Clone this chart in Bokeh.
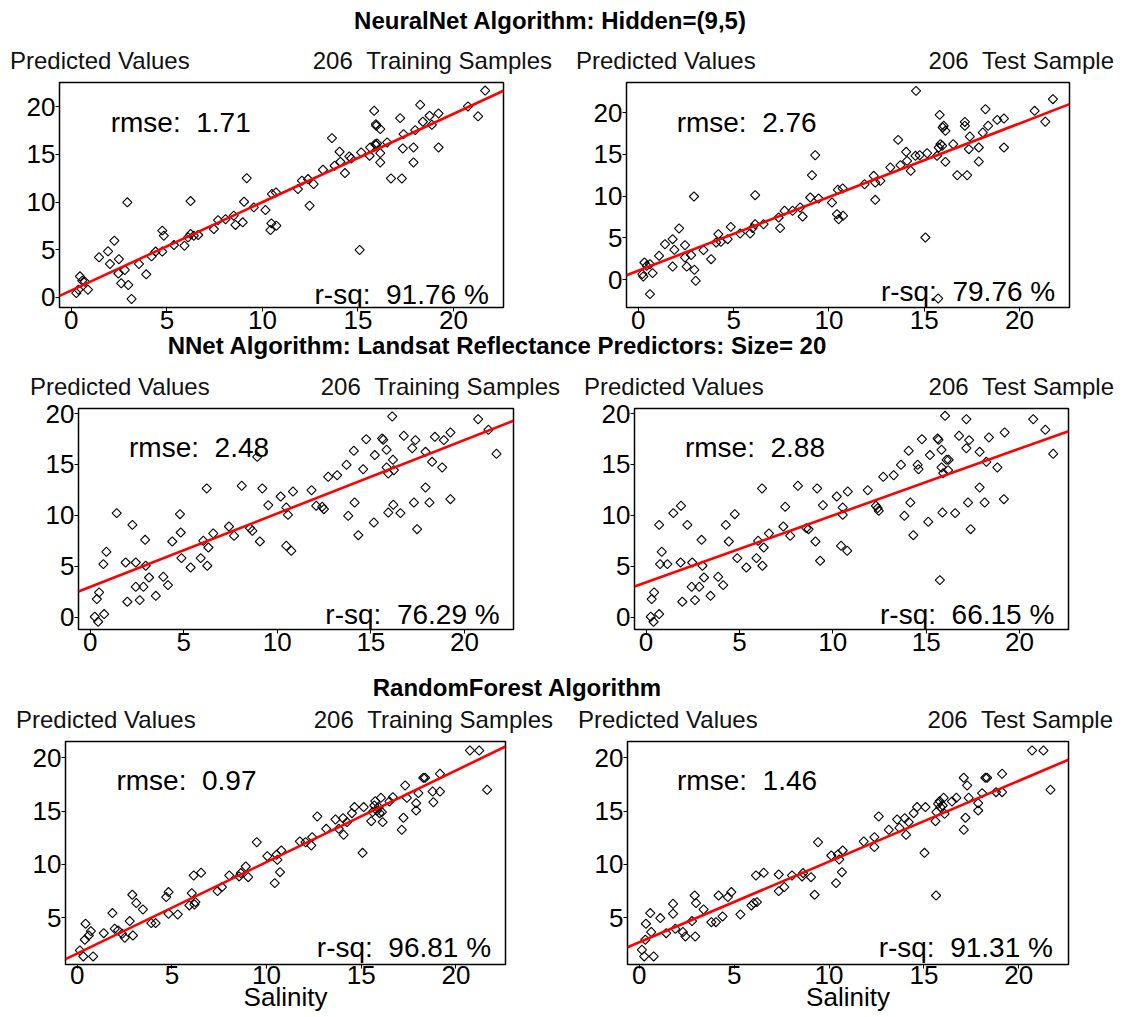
import numpy as np
from bokeh.plotting import figure
from bokeh.models import Label, FixedTicker, Div, Range1d
from bokeh.layouts import column, row
from bokeh.embed import file_html
from bokeh.resources import INLINE

FONT = "Liberation Sans"
NBSP2 = "\u00a0\u00a0"

# ---- NeuralNet Algorithm: Hidden=(9,5) ----
nn_train_obs = [0.26, 0.37, 0.45, 0.57, 0.71, 0.87, 1.45, 1.92, 2.02, 2.25,
                2.49, 2.46, 2.61, 2.80, 2.93, 2.98, 3.15, 3.54, 3.92, 4.20,
                4.41, 4.76, 4.84, 4.76, 5.37, 5.92, 6.11, 6.24, 6.24, 6.41,
                6.64, 7.46, 7.68, 8.07, 8.59, 8.50, 8.97, 9.04, 9.18, 9.55,
                10.16, 10.42, 10.47, 10.73, 10.50, 10.71, 11.86, 12.07, 12.39, 12.47,
                12.68, 13.17, 13.64, 13.78, 14.04, 14.08, 14.32, 14.55, 14.65, 15.09,
                15.17, 15.61, 15.64, 15.85, 15.90, 15.94, 15.96, 16.17, 16.17, 16.17,
                16.53, 16.73, 17.21, 17.30, 17.39, 17.35, 17.91, 17.91, 18.00, 18.26,
                18.40, 18.75, 18.87, 19.22, 19.22, 20.76, 21.29, 21.66, 15.95, 16.00]
nn_train_pred = [0.45, 0.80, 2.20, 1.75, 1.64, 0.80, 4.20, 4.83, 3.50, 5.94,
                 4.00, 2.50, 1.47, 2.87, 9.97, 1.30, -0.17, 3.50, 2.41, 4.30,
                 4.80, 7.00, 6.47, 4.80, 5.49, 5.42, 6.30, 10.10, 6.64, 6.47,
                 6.54, 7.17, 8.10, 8.20, 7.60, 8.57, 7.87, 10.03, 12.50, 9.44,
                 9.16, 7.06, 7.76, 7.52, 10.84, 11.01, 11.36, 12.24, 12.41, 9.62,
                 11.89, 13.39, 16.71, 13.81, 15.28, 14.23, 13.04, 14.79, 14.58, 4.97,
                 15.21, 14.86, 15.73, 19.58, 16.08, 18.18, 18.00, 17.66, 15.14, 14.16,
                 16.26, 12.48, 18.81, 12.48, 17.13, 15.63, 15.73, 14.16, 17.55, 20.21,
                 18.43, 19.06, 18.11, 19.30, 15.73, 20.04, 19.00, 21.70, 16.00, 16.15]

nn_test_obs = [0.21, 0.26, 0.32, 0.44, 0.61, 0.61, 0.75, 1.09, 1.40, 1.80,
               1.80, 1.89, 2.14, 2.45, 2.45, 2.54, 2.77, 2.92, 2.94, 3.01,
               3.42, 3.82, 4.08, 4.20, 4.33, 4.69, 4.85, 5.34, 5.87, 5.99,
               6.13, 6.13, 6.57, 7.36, 7.44, 7.67, 8.09, 8.62, 8.49, 9.02,
               9.11, 9.28, 9.46, 10.16, 10.42, 10.51, 10.74, 10.47, 10.72, 11.87,
               12.35, 12.43, 12.43, 12.70, 13.22, 13.63, 13.75, 14.05, 14.10, 14.29,
               14.54, 14.57, 14.76, 15.06, 15.15, 15.67, 15.76, 15.81, 15.85, 15.94,
               15.97, 16.02, 16.11, 16.11, 15.73, 16.52, 16.73, 17.13, 17.13, 17.25,
               17.39, 17.34, 17.86, 17.86, 18.07, 18.21, 18.35, 18.83, 19.18, 19.18,
               20.79, 21.35, 21.75]
nn_test_pred = [0.68, 0.40, 2.07, 1.67, 1.87, -1.71, 0.80, 2.87, 4.26, 4.86,
                1.59, 3.59, 6.14, 4.14, 2.67, 1.59, 2.95, 9.96, 1.20, -0.12,
                3.55, 2.47, 4.46, 5.46, 4.54, 4.86, 6.33, 5.54, 5.54, 6.18,
                10.12, 6.65, 6.65, 7.45, 6.18, 8.25, 8.25, 7.57, 8.65, 9.84,
                12.51, 14.90, 9.72, 9.24, 7.85, 7.25, 7.65, 10.76, 10.92, 11.43,
                12.43, 11.63, 9.56, 11.83, 13.43, 16.73, 13.71, 15.30, 14.22, 13.03,
                14.82, 22.59, 14.90, 5.06, 15.14, 14.82, 15.82, 19.72, 16.22, 16.02,
                18.21, 18.41, 17.81, 14.10, -2.23, 16.22, 12.51, 18.88, 18.41, 12.51,
                17.13, 15.62, 15.82, 14.14, 17.61, 20.40, 18.41, 19.12, 19.28, 15.82,
                20.20, 18.90, 21.60]

# ---- NNet Algorithm: Landsat Reflectance Predictors ----
nnet_train_obs = [0.25, 0.43, 0.36, 0.48, 0.75, 0.71, 0.87, 1.42, 1.90, 1.99,
                  2.26, 2.44, 2.44, 2.65, 2.85, 2.94, 2.97, 3.15, 3.51, 3.91,
                  4.16, 4.39, 4.80, 4.84, 4.88, 5.37, 5.91, 6.05, 6.23, 6.26,
                  6.32, 6.58, 7.42, 7.69, 8.10, 8.54, 8.67, 8.93, 9.07, 9.20,
                  9.52, 10.18, 10.48, 10.57, 10.48, 10.75, 10.84, 11.83, 12.08, 12.40,
                  12.49, 12.72, 13.20, 13.70, 13.79, 14.09, 14.13, 14.33, 14.59, 14.75,
                  15.16, 15.21, 15.60, 15.66, 15.84, 15.84, 15.93, 15.93, 16.18, 16.14,
                  16.20, 16.23, 16.58, 16.76, 17.21, 17.30, 17.38, 17.47, 17.92, 17.92,
                  18.13, 18.27, 18.42, 18.81, 18.90, 19.25, 19.25, 20.73, 21.28, 21.71]
nnet_train_pred = [0.07, -0.42, 1.80, 2.45, 0.33, 5.23, 6.44, 10.23, 5.39, 1.54,
                   9.08, 5.39, 3.01, 1.70, 3.01, 7.61, 5.07, 3.92, 2.12, 3.99,
                   3.17, 7.45, 10.13, 8.33, 5.82, 4.90, 5.82, 7.52, 12.65, 5.07,
                   6.86, 8.24, 8.92, 8.01, 12.91, 8.76, 8.50, 15.75, 7.45, 12.65,
                   11.01, 11.86, 10.78, 10.07, 7.03, 6.54, 12.35, 12.48, 10.95, 10.85,
                   10.62, 13.79, 13.95, 14.97, 9.97, 16.34, 11.27, 8.07, 14.54, 17.48,
                   9.31, 15.92, 17.55, 17.42, 16.44, 14.71, 14.12, 10.29, 15.46, 19.71,
                   11.05, 14.44, 10.23, 17.81, 16.60, 11.27, 17.39, 8.66, 16.24, 12.75,
                   11.27, 15.26, 17.71, 14.71, 17.39, 18.14, 11.60, 19.44, 18.40, 16.05]

nnet_test_obs = [0.25, 0.40, 0.30, 0.43, 0.70, 0.70, 0.75, 0.84, 1.14, 1.46,
                 1.87, 1.85, 1.94, 2.21, 2.47, 2.44, 2.62, 2.85, 2.97, 3.02,
                 3.10, 3.45, 3.86, 4.13, 4.27, 4.43, 4.75, 4.88, 5.37, 5.91,
                 6.00, 6.21, 6.23, 6.30, 6.58, 7.35, 7.45, 7.72, 8.13, 8.58,
                 8.70, 9.07, 9.16, 9.32, 9.47, 10.21, 10.44, 10.53, 10.53, 10.77,
                 10.80, 11.87, 12.31, 12.40, 12.46, 12.70, 13.26, 13.65, 13.83, 14.06,
                 14.15, 14.31, 14.54, 14.59, 14.77, 15.11, 15.20, 15.61, 15.66, 15.73,
                 15.82, 15.82, 15.87, 15.91, 16.01, 16.09, 16.20, 16.17, 16.55, 16.76,
                 17.15, 17.15, 17.24, 17.30, 17.38, 17.86, 17.86, 18.13, 18.22, 18.36,
                 18.81, 19.16, 19.20, 20.73, 21.38, 21.80]
nnet_test_pred = [0.07, -0.42, 1.80, 2.45, 0.33, 9.08, 5.23, 6.44, 5.23, 10.23,
                  10.95, 5.39, 1.54, 9.08, 5.39, 3.01, 1.70, 3.01, 7.61, 5.07,
                  3.92, 2.12, 3.99, 3.17, 9.08, 7.45, 10.13, 5.82, 4.90, 5.82,
                  7.52, 12.65, 5.07, 6.86, 8.24, 8.92, 10.85, 8.01, 12.91, 8.76,
                  8.66, 7.45, 12.65, 5.56, 11.01, 11.86, 7.03, 10.78, 10.07, 6.54,
                  12.35, 12.48, 10.95, 10.72, 10.46, 13.79, 13.95, 14.97, 9.97, 16.34,
                  11.27, 8.07, 14.97, 14.54, 17.48, 9.38, 15.92, 17.55, 17.42, 3.66,
                  16.44, 14.71, 10.29, 14.15, 19.77, 15.46, 15.46, 14.44, 10.23, 17.81,
                  19.44, 16.60, 11.27, 17.39, 8.66, 16.24, 12.75, 11.27, 15.26, 17.65,
                  14.71, 11.60, 18.14, 19.44, 18.40, 16.05]

# ---- RandomForest Algorithm ----
rf_train_obs = [0.14, 0.32, 0.44, 0.40, 0.61, 0.72, 0.84, 1.40, 1.86, 1.98,
                2.16, 2.37, 2.51, 2.77, 2.94, 2.91, 3.12, 3.47, 3.91, 4.14,
                4.70, 4.82, 4.82, 5.31, 5.92, 6.05, 6.15, 6.19, 6.24, 6.54,
                7.41, 7.64, 8.03, 8.55, 8.64, 8.90, 9.03, 9.48, 10.04, 10.43,
                10.53, 10.57, 10.71, 10.78, 11.76, 12.06, 12.36, 12.41, 12.68, 13.15,
                13.64, 13.81, 14.04, 14.07, 14.25, 14.51, 14.64, 15.07, 15.13, 15.53,
                15.60, 15.69, 15.74, 15.83, 15.92, 15.97, 16.04, 16.09, 16.13, 16.49,
                16.67, 17.14, 17.23, 17.32, 17.41, 17.90, 17.90, 18.02, 18.28, 18.37,
                18.81, 18.77, 19.16, 19.16, 20.74, 21.23, 21.65]
rf_train_pred = [1.94, 1.38, 4.44, 2.94, 3.34, 3.75, 1.38, 3.56, 5.44, 3.97,
                 3.81, 3.50, 3.13, 4.69, 3.34, 7.16, 6.38, 5.78, 4.50, 4.50,
                 6.94, 7.41, 5.38, 5.31, 6.16, 7.31, 8.97, 6.25, 6.47, 9.22,
                 7.50, 7.88, 8.97, 8.88, 9.19, 9.81, 8.81, 12.09, 10.78, 8.25,
                 10.91, 10.44, 9.28, 11.31, 12.16, 12.09, 11.78, 12.56, 14.50, 13.34,
                 14.22, 13.34, 14.34, 12.78, 13.97, 14.81, 15.38, 11.09, 15.38, 14.06,
                 14.91, 15.53, 15.94, 15.06, 15.38, 14.81, 16.25, 14.91, 13.97, 15.91,
                 16.31, 13.25, 14.38, 17.41, 16.25, 15.06, 15.75, 16.69, 18.13, 18.13,
                 15.84, 16.84, 18.50, 16.84, 20.69, 20.68, 17.00]

rf_test_obs = [0.14, 0.26, 0.35, 0.32, 0.58, 0.63, 0.76, 1.11, 1.42, 1.78,
               1.78, 1.90, 2.30, 2.43, 2.78, 2.92, 2.99, 2.95, 3.39, 3.80,
               4.04, 4.18, 4.39, 4.67, 4.85, 5.33, 5.91, 6.03, 6.15, 6.20,
               6.56, 7.35, 7.35, 7.64, 8.05, 8.58, 8.63, 9.05, 9.24, 9.42,
               10.12, 10.37, 10.47, 10.54, 10.68, 10.72, 11.83, 12.39, 12.39, 12.62,
               13.15, 13.59, 13.71, 13.99, 14.06, 14.20, 14.46, 14.64, 15.03, 15.08,
               15.61, 15.64, 15.66, 15.75, 15.83, 15.87, 15.99, 16.04, 16.09, 16.48,
               16.71, 17.10, 17.10, 17.19, 17.28, 17.36, 17.86, 17.86, 18.07, 18.24,
               18.33, 18.80, 19.12, 19.12, 20.70, 21.30, 21.67]
rf_test_pred = [2.00, 1.38, 4.44, 2.94, 5.44, 3.66, 1.38, 4.97, 3.56, 6.31,
                5.38, 3.97, 3.66, 3.25, 4.69, 7.09, 6.38, 3.25, 5.78, 4.59,
                4.59, 7.09, 5.13, 6.94, 7.41, 5.31, 6.16, 6.38, 8.97, 6.47,
                9.22, 9.06, 7.50, 7.88, 8.97, 8.88, 9.19, 8.81, 7.16, 12.09,
                10.84, 8.25, 10.94, 10.47, 9.28, 11.31, 12.16, 12.56, 11.63, 14.50,
                13.25, 14.22, 13.44, 14.34, 12.78, 13.97, 14.81, 15.38, 11.09, 15.38,
                14.06, 7.09, 14.91, 15.69, 15.94, 15.38, 15.53, 16.25, 14.75, 15.91,
                16.25, 13.25, 18.13, 14.38, 17.41, 16.25, 15.06, 15.75, 16.69, 18.13,
                18.13, 16.78, 16.78, 18.50, 20.69, 20.68, 17.00]

# fitted regression lines (intercept, slope) and summary statistics
fits = {"nn_train": (0.72, 0.927), "nn_test": (1.10, 0.880),
        "nnet_train": (3.00, 0.720), "nnet_test": (3.45, 0.655),
        "rf_train": (1.65, 0.858), "rf_test": (2.70, 0.757)}
rmse_values = {"nn_train": "1.71", "nn_test": "2.76", "nnet_train": "2.48",
               "nnet_test": "2.88", "rf_train": "0.97", "rf_test": "1.46"}
rsq_values = {"nn_train": "91.76", "nn_test": "79.76", "nnet_train": "76.29",
              "nnet_test": "66.15", "rf_train": "96.81", "rf_test": "91.31"}

row_titles = ["NeuralNet Algorithm: Hidden=(9,5)",
              "NNet Algorithm: Landsat Reflectance Predictors: Size= 20",
              "RandomForest Algorithm"]
n_samples = 206
sample_kinds = ["Training Samples", "Test Sample"]
axis_ticks = [0, 5, 10, 15, 20]
X_RANGE = (-0.62, 22.62)


def make_panel(key, obs, pred, y_range, geom, stat_pos, salinity=False):
    fl, fw, fr, ft, fh, fb = geom
    p = figure(frame_width=fw, frame_height=fh,
               min_border_left=fl, min_border_right=fr,
               min_border_top=ft, min_border_bottom=fb,
               x_range=Range1d(*X_RANGE), y_range=Range1d(*y_range),
               output_backend="svg", toolbar_location=None, tools="")
    p.background_fill_color = "white"
    p.border_fill_color = "white"
    p.outline_line_color = "black"
    p.outline_line_width = 1.5
    p.outline_line_alpha = 1.0
    p.xgrid.visible = False
    p.ygrid.visible = False
    for ax in (p.xaxis[0], p.yaxis[0]):
        ax.ticker = FixedTicker(ticks=axis_ticks)
        ax.axis_line_color = None
        ax.major_tick_in = 0
        ax.major_tick_out = 4
        ax.major_tick_line_color = "black"
        ax.major_tick_line_width = 1
        ax.minor_tick_line_color = None
        ax.major_label_text_font = FONT
        ax.major_label_text_font_size = "26px"
        ax.major_label_text_color = "black"
    p.xaxis.major_label_standoff = -1 if not salinity else -3
    p.yaxis.major_label_standoff = 0
    if salinity:
        p.xaxis.axis_label = "Salinity"
        p.xaxis.axis_label_text_font = FONT
        p.xaxis.axis_label_text_font_size = "26px"
        p.xaxis.axis_label_text_font_style = "normal"
        p.xaxis.axis_label_text_color = "black"
        p.xaxis.axis_label_standoff = -5

    p.scatter(obs, pred, marker="square", size=6.5, angle=np.pi / 4,
              fill_color=None, line_color="black", line_width=1.1)

    a, b = fits[key]
    xs = list(X_RANGE)
    p.line(xs, [a + b * x for x in xs], line_color="#ff0000", line_width=2.6)

    (rmx, rmy), (rsx, rsy) = stat_pos
    p.add_layout(Label(x=rmx, y=rmy, text=f"rmse:{NBSP2}{rmse_values[key]}", text_font=FONT,
                       text_font_size="28px", text_color="black",
                       text_baseline="alphabetic", text_align="left"))
    p.add_layout(Label(x=rsx, y=rsy, text=f"r-sq:{NBSP2}{rsq_values[key]} %", text_font=FONT,
                       text_font_size="28px", text_color="black",
                       text_baseline="alphabetic", text_align="right"))
    return p


p1 = make_panel("nn_train", nn_train_obs, nn_train_pred, (-1.07, 22.55),
                (59, 444, 58, 4, 225, 32), ((2.06, 18.36), (21.85, 0.3)))
p2 = make_panel("nn_test", nn_test_obs, nn_test_pred, (-3.31, 23.59),
                (65, 443, 53, 4, 225, 32), ((2.01, 18.8), (21.87, -1.4)))
p3 = make_panel("nnet_train", nnet_train_obs, nnet_train_pred, (-1.18, 20.49),
                (78, 435, 48, 10, 221, 32), ((2.08, 16.67), (21.88, 0.25)))
p4 = make_panel("nnet_test", nnet_test_obs, nnet_test_pred, (-1.18, 20.49),
                (73, 434, 54, 10, 221, 32), ((2.08, 16.67), (21.86, 0.25)))
p5 = make_panel("rf_train", rf_train_obs, rf_train_pred, (0.62, 21.53),
                (65, 440, 56, 4, 223, 53), ((2.07, 17.88), (21.86, 2.25)), salinity=True)
p6 = make_panel("rf_test", rf_test_obs, rf_test_pred, (0.62, 21.53),
                (66, 441, 54, 4, 223, 53), ((1.99, 17.88), (21.8, 2.25)), salinity=True)


def header_div(title, height, title_top, shift, head_top, lefts, rights):
    """Row title plus the two header lines above each panel of the row."""
    parts = [f'<div style="position:relative;width:1122px;height:{height}px;'
             f'font-family:\'Liberation Sans\';color:black;line-height:18px">']
    parts.append(f'<div style="position:absolute;left:0;top:{title_top}px;width:1122px;'
                 f'text-align:center;white-space:nowrap;transform:translateX({shift}px);'
                 f'font-weight:bold;font-size:24px">{title}</div>')
    heads = [("Predicted Values", "left", lefts[0]),
             (f"{n_samples}&nbsp;&nbsp;{sample_kinds[0]}", "right", 1122 - rights[0]),
             ("Predicted Values", "left", lefts[1]),
             (f"{n_samples}&nbsp;&nbsp;{sample_kinds[1]}", "right", 1122 - rights[1])]
    for text, side, pos in heads:
        parts.append(f'<div style="position:absolute;{side}:{pos}px;top:{head_top}px;'
                     f'white-space:nowrap;font-size:24px;color:#111111">{text}</div>')
    parts.append('</div>')
    return Div(text="".join(parts), width=1122, height=height, margin=(0, 0, 0, 0))


h1 = header_div(row_titles[0], 78, 12, -11, 51.7, (10, 576), (552, 1114))
h2 = header_div(row_titles[1], 59, -2, -64, 38.5, (30, 584), (560, 1114))
h3 = header_div(row_titles[2], 76, 18.3, -44, 49.7, (16, 578), (553, 1113))

layout = column(h1, row(p1, p2, spacing=0), h2, row(p3, p4, spacing=0),
                h3, row(p5, p6, spacing=0), spacing=0)

html = file_html(layout, INLINE, title="Salinity predictions")
html = html.replace("<head>", "<head><style>html,body{margin:0;padding:0;background:white}</style>", 1)
open("out.html", "w").write(html)
